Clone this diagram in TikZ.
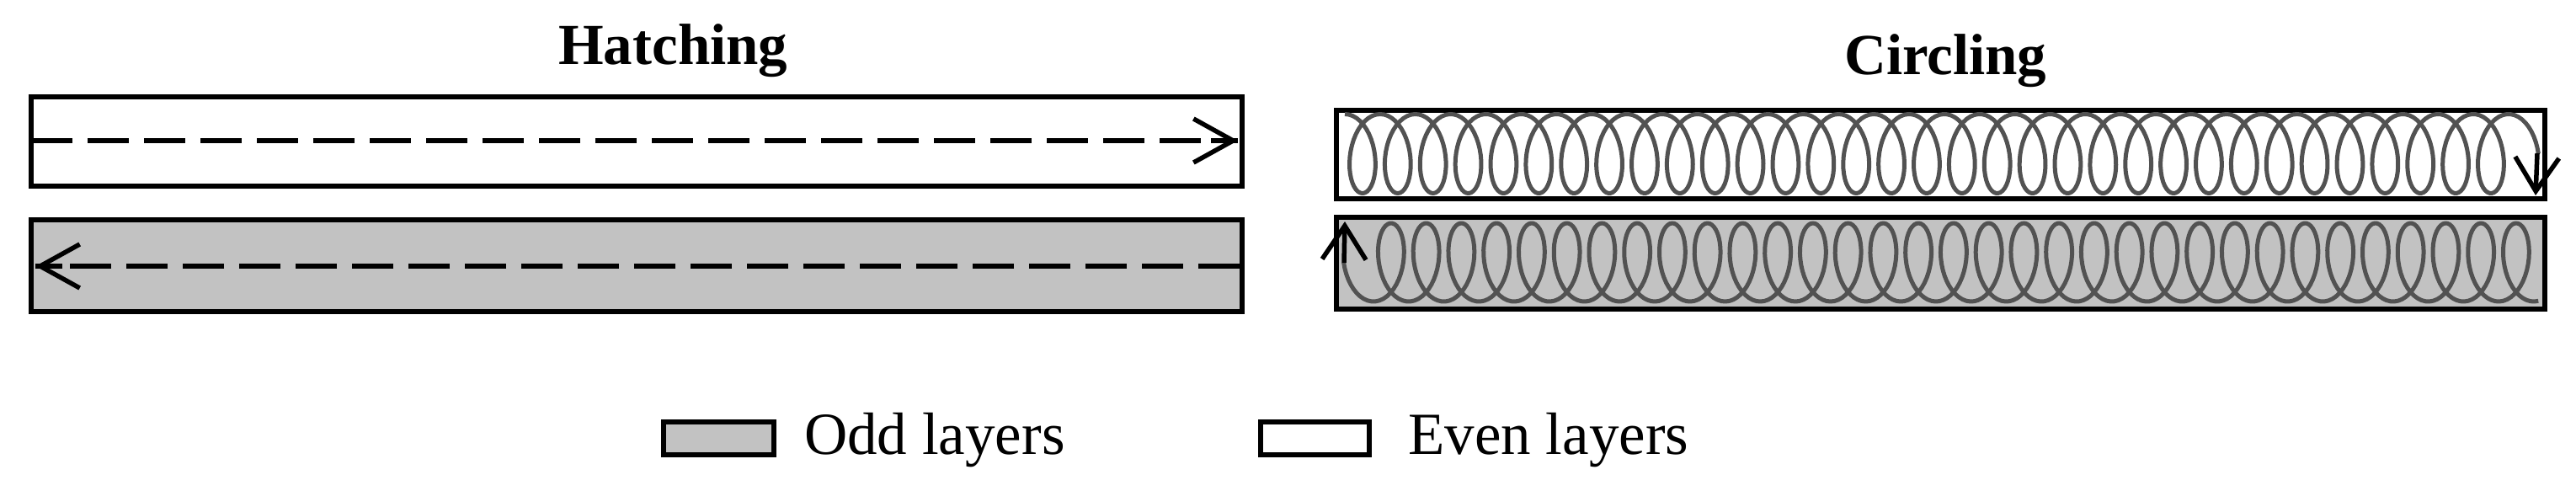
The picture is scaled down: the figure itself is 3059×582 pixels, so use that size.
\documentclass[tikz,border=0pt]{standalone}
\usepackage{fontspec}
\setmainfont{Liberation Serif}
\usetikzlibrary{arrows.meta}
\definecolor{oddgray}{gray}{0.76}
\tikzset{
  layerbox/.style={draw=black, line width=6pt},
  coil/.style={draw=black!68, line width=5pt, line join=round},
  dashline/.style={draw=black, line width=6pt, dash pattern=on 49pt off 18pt},
  barb/.style={draw=black, line width=5.5pt, -{Straight Barb[length=#1, width=52pt, line width=5.5pt]}},
  label/.style={anchor=base west, inner sep=0pt, font=\fontsize{71}{71}\selectfont},
  title/.style={anchor=base west, inner sep=0pt, font=\fontsize{69}{69}\selectfont\bfseries}
}
\begin{document}
\begin{tikzpicture}[x=1pt, y=-1pt]
  \useasboundingbox (0,0) rectangle (3059,582);
  \node[title] (hatching) at (663,76) {Hatching};
  \node[title] (circling) at (2190,88) {Circling};

  % hatching
  \draw[layerbox] (37,115) rectangle (1475,221);
  \draw[layerbox, fill=oddgray] (37,261) rectangle (1475,370);
  \coordinate (evenstart) at (37,167);
  \coordinate (evenend) at (1470,167);
  \coordinate (oddstart) at (1472,316);
  \coordinate (oddend) at (42,316);
  \draw[dashline] (evenstart) -- (evenend);
  \draw[dashline] (oddstart) -- (oddend);
  \draw[barb=47pt] ([xshift=-32pt]evenend) -- (evenend);
  \draw[barb=47pt] ([xshift=32pt]oddend) -- (oddend);

  % circling
  \draw[layerbox] (1587,131) rectangle (3022,236);
  \draw[layerbox, fill=oddgray] (1587,258) rectangle (3022,367);
  \draw[coil] plot[domain=0:11970, samples=1400] ({1597+\x/360*41.875+25*sin(\x)},{182.5-47*cos(\x)});
  \draw[coil] plot[domain=-90:11890, samples=1400] ({1631+\x/360*41.75+25*sin(\x)},{311.5+46.5*cos(\x)});
  \coordinate (eventip) at (3011,232);
  \coordinate (oddtip) at (1597,263);
  \draw[barb=40pt] (3013,182) -- (eventip);
  \draw[barb=40pt] (1596,312) -- (oddtip);

  % legend
  \draw[layerbox, fill=oddgray] (788,501) rectangle (919,540);
  \node[label] (oddlabel) at (955,539) {Odd layers};
  \draw[layerbox] (1497,501) rectangle (1626,540);
  \node[label] (evenlabel) at (1672,539) {Even layers};
\end{tikzpicture}
\end{document}
